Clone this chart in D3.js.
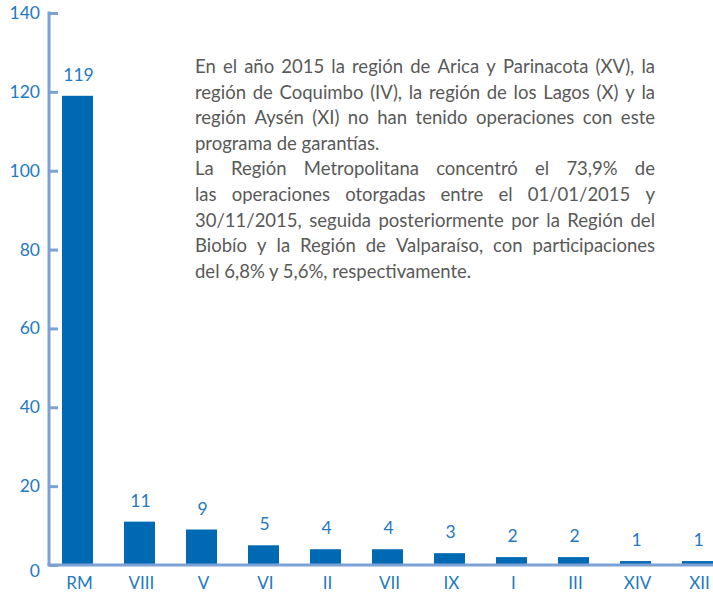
<!DOCTYPE html>
<html>
<head>
<meta charset="utf-8">
<script src="https://cdn.jsdelivr.net/npm/d3@7"></script>
<style>
  body { margin: 0; background: #fff; }
  svg { display: block; }
</style>
</head>
<body>
<div id="chart"></div>
<script>
// data
var regions = ["RM", "VIII", "V", "VI", "II", "VII", "IX", "I", "III", "XIV", "XII"];
var operations = [119, 11, 9, 5, 4, 4, 3, 2, 2, 1, 1];
var yTicks = [0, 20, 40, 60, 80, 100, 120, 140];
var noteLines = [
  "En el año 2015 la región de Arica y Parinacota (XV), la",
  "región de Coquimbo (IV), la región de los Lagos (X) y la",
  "región Aysén (XI) no han tenido operaciones con este",
  "programa de garantías.",
  "La Región Metropolitana concentró el 73,9% de",
  "las operaciones otorgadas entre el 01/01/2015 y",
  "30/11/2015, seguida posteriormente por la Región del",
  "Biobío y la Región de Valparaíso, con participaciones",
  "del 6,8% y 5,6%, respectivamente."
];
// last line of each paragraph is not justified
var noteLast = [3, 8];

var W = 713, H = 594;
var axisColor = "#7ba1d5", barColor = "#0069b4", labelColor = "#2479c1";
var font = "Lato, 'Open Sans', sans-serif";

var svg = d3.select("#chart").append("svg")
  .attr("width", W)
  .attr("height", H);

var x = d3.scaleBand()
  .domain(regions)
  .range([46.5, 728.5])
  .paddingInner(0.5)
  .paddingOuter(0.25);

var y = d3.scaleLinear()
  .domain([0, 140])
  .range([565, 13]);

// bars
svg.selectAll("rect.bar")
  .data(operations)
  .enter()
  .append("rect")
  .attr("class", "bar")
  .attr("x", function(d, i) { return x(regions[i]); })
  .attr("y", function(d) { return y(d); })
  .attr("width", x.bandwidth())
  .attr("height", function(d) { return y(0) - y(d); })
  .attr("fill", barColor);

// value labels
svg.selectAll("text.val")
  .data(operations)
  .enter()
  .append("text")
  .attr("class", "val")
  .attr("x", function(d, i) { return x(regions[i]) + x.bandwidth() / 2 + 1; })
  .attr("y", function(d) { return y(d) - 15; })
  .attr("text-anchor", "middle")
  .style("font-family", font)
  .style("font-size", "17.5px")
  .style("fill", labelColor)
  .text(function(d) { return d; });

// y axis ticks
var yAxis = svg.append("g")
  .attr("transform", "translate(49,0)")
  .call(d3.axisRight(y).tickValues(yTicks).tickSize(9).tickFormat(""));
yAxis.select(".domain").remove();
yAxis.selectAll(".tick line").attr("stroke", axisColor).attr("stroke-width", 3);

svg.append("line")
  .attr("x1", 49).attr("x2", 49)
  .attr("y1", y(140) - 1.5).attr("y2", y(0))
  .attr("stroke", axisColor).attr("stroke-width", 3);

svg.selectAll("text.ytick")
  .data(yTicks)
  .enter()
  .append("text")
  .attr("class", "ytick")
  .attr("x", 40)
  .attr("y", function(d) { return y(d) + (d === 0 ? 12 : 6); })
  .attr("text-anchor", "end")
  .style("font-family", font)
  .style("font-size", "17.5px")
  .style("fill", labelColor)
  .text(function(d) { return d; });

// x baseline
svg.append("line")
  .attr("x1", 47.5).attr("x2", W)
  .attr("y1", y(0)).attr("y2", y(0))
  .attr("stroke", axisColor).attr("stroke-width", 3);

// x labels
svg.selectAll("text.xlab")
  .data(regions)
  .enter()
  .append("text")
  .attr("class", "xlab")
  .attr("x", function(d) { return x(d) + x.bandwidth() / 2 + 2; })
  .attr("y", 589)
  .attr("text-anchor", "middle")
  .style("font-family", font)
  .style("font-size", "17px")
  .style("fill", labelColor)
  .text(function(d) { return d; });

// annotation, justified by hand
var left = 195, right = 655, top0 = 73, lh = 25.6;
var note = svg.append("g")
  .style("font-family", font)
  .style("font-size", "18.5px")
  .style("fill", "#595959");

noteLines.forEach(function(line, i) {
  var yy = top0 + i * lh;
  if (noteLast.indexOf(i) >= 0) {
    note.append("text").attr("x", left).attr("y", yy).text(line);
    return;
  }
  var words = line.split(" ");
  var nodes = words.map(function(w) {
    return note.append("text").attr("y", yy).text(w);
  });
  var widths = nodes.map(function(n) { return n.node().getComputedTextLength(); });
  var total = d3.sum(widths);
  var gap = (right - left - total) / (words.length - 1);
  var cx = left;
  nodes.forEach(function(n, k) {
    n.attr("x", cx);
    cx += widths[k] + gap;
  });
});
</script>
</body>
</html>
